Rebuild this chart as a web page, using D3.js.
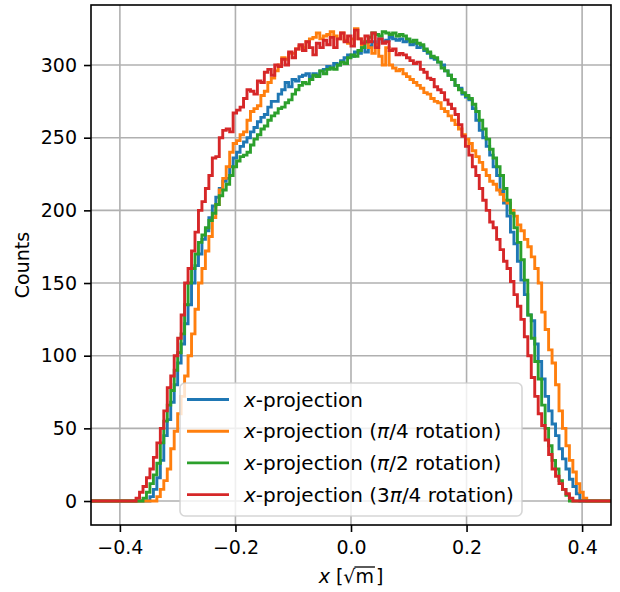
<!DOCTYPE html>
<html>
<head>
<meta charset="utf-8">
<script src="https://cdn.jsdelivr.net/npm/d3@7"></script>
<style>
  body { margin: 0; background: #fff; }
  svg { display: block; font-family: "DejaVu Sans", sans-serif; }
</style>
</head>
<body>
<div id="chart"></div>
<script>
// histogram bins: left edge of first listed bin and bin width
var binStart = -0.372;
var binWidth = 0.006;

var seriesNames = ["x-projection", "x-projection (\u03c0/4 rotation)", "x-projection (\u03c0/2 rotation)", "x-projection (3\u03c0/4 rotation)"];
var seriesColors = ["#1f77b4", "#ff7f0e", "#2ca02c", "#d62728"];

var countsX = [
	0, 0, 0, 0, 3, 8, 16, 28, 45, 56,
	68, 80, 95, 108, 122, 135, 150, 162, 170, 180,
	186, 195, 203, 209, 215, 220, 222, 230, 236, 240,
	244, 247, 250, 254, 257, 261, 264, 266, 271, 275,
	275, 280, 283, 288, 285, 290, 289, 292, 293, 294,
	292, 294, 293, 296, 297, 299, 298, 301, 300, 303,
	305, 307, 306, 309, 308, 312, 309, 313, 316, 314,
	318, 316, 317, 319, 318, 317, 318, 316, 317, 314,
	315, 312, 313, 310, 308, 305, 304, 302, 300, 296,
	293, 290, 286, 284, 280, 278, 276, 270, 262, 255,
	250, 244, 238, 230, 224, 213, 205, 196, 185, 177,
	165, 152, 142, 128, 124, 108, 96, 84, 72, 62,
	53, 45, 36, 29, 22, 15, 10, 5, 0, 0, 0
];

var countsRot45 = [
	0, 0, 0, 0, 0, 0, 3, 8, 14, 22,
	36, 48, 60, 72, 86, 100, 115, 132, 150, 160,
	172, 182, 195, 204, 214, 222, 230, 240, 246, 248,
	252, 254, 262, 268, 270, 272, 279, 282, 288, 291,
	296, 300, 305, 304, 308, 308, 311, 313, 312, 316,
	318, 319, 322, 318, 320, 321, 323, 320, 318, 322,
	317, 315, 318, 325, 318, 314, 316, 312, 308, 314,
	306, 300, 312, 300, 298, 296, 297, 294, 292, 290,
	288, 286, 284, 281, 280, 277, 275, 274, 270, 268,
	265, 262, 259, 256, 252, 249, 246, 241, 237, 233,
	228, 224, 220, 218, 214, 211, 207, 205, 200, 196,
	190, 186, 180, 175, 168, 160, 150, 130, 118, 104,
	95, 80, 62, 50, 38, 28, 20, 12, 6, 2, 0
];

var countsRot90 = [
	0, 0, 2, 6, 12, 18, 26, 40, 55, 66,
	76, 90, 102, 115, 135, 150, 160, 170, 178, 183,
	188, 193, 198, 204, 210, 214, 218, 224, 230, 234,
	237, 238, 240, 245, 249, 252, 256, 258, 262, 265,
	267, 270, 271, 274, 276, 280, 283, 286, 288, 287,
	290, 293, 292, 296, 294, 297, 298, 297, 300, 302,
	301, 305, 307, 306, 310, 312, 316, 319, 322, 321,
	320, 323, 322, 321, 322, 320, 321, 320, 318, 316,
	317, 315, 314, 311, 309, 306, 305, 302, 298, 296,
	293, 290, 286, 283, 281, 279, 277, 273, 268, 262,
	256, 249, 242, 236, 230, 224, 215, 207, 198, 188,
	178, 166, 152, 128, 112, 96, 84, 66, 50, 38,
	28, 22, 14, 8, 4, 0, 0, 0, 0, 0, 0
];

var countsRot135 = [
	2, 6, 10, 16, 22, 30, 40, 50, 62, 78,
	86, 100, 112, 128, 150, 160, 172, 185, 200, 206,
	215, 224, 236, 237, 250, 255, 256, 254, 267, 269,
	271, 277, 283, 282, 280, 289, 288, 295, 297, 293,
	300, 299, 304, 300, 309, 305, 311, 314, 310, 316,
	312, 307, 315, 312, 317, 314, 319, 312, 318, 322,
	316, 320, 313, 324, 318, 315, 320, 316, 322, 312,
	318, 315, 316, 310, 311, 307, 308, 307, 305, 303,
	301, 302, 297, 295, 291, 290, 285, 283, 281, 276,
	273, 270, 266, 259, 251, 244, 238, 230, 224, 215,
	207, 200, 192, 188, 180, 173, 165, 160, 151, 142,
	134, 125, 113, 100, 85, 72, 60, 52, 42, 32,
	22, 17, 12, 8, 5, 2, 0, 0, 0, 0, 0
];

var xTicks = [-0.4, -0.2, 0.0, 0.2, 0.4];
var yTicks = [0, 50, 100, 150, 200, 250, 300];

var allCounts = [countsX, countsRot45, countsRot90, countsRot135];

// set the dimensions and margins of the graph
var margin = {top: 5, right: 9, bottom: 67, left: 91};
var width = 620 - margin.left - margin.right;
var height = 592 - margin.top - margin.bottom;
var fontSize = 19;
var legendFontSize = 20;

var x = d3.scaleLinear().domain([-0.45, 0.45]).range([0, width]);
var y = d3.scaleLinear().domain([-16.5, 341.3]).range([height, 0]);

var svg = d3.select("#chart").append("svg")
	.attr("width", 620)
	.attr("height", 592)
	.append("g")
	.attr("transform", "translate(" + margin.left + "," + margin.top + ")");

svg.append("defs").append("clipPath")
	.attr("id", "plot-clip")
	.append("rect")
	.attr("width", width)
	.attr("height", height);

// grid
svg.append("g").selectAll("line.gx")
	.data(xTicks).enter().append("line")
	.attr("x1", function(d) { return x(d); })
	.attr("x2", function(d) { return x(d); })
	.attr("y1", 0).attr("y2", height)
	.attr("stroke", "#b0b0b0").attr("stroke-width", 1.6);

svg.append("g").selectAll("line.gy")
	.data(yTicks).enter().append("line")
	.attr("y1", function(d) { return y(d); })
	.attr("y2", function(d) { return y(d); })
	.attr("x1", 0).attr("x2", width)
	.attr("stroke", "#b0b0b0").attr("stroke-width", 1.6);

// step histograms
function stepPoints(vals) {
	var pts = [[-0.45, 0]];
	vals.forEach(function(v, i) { pts.push([binStart + i * binWidth, v]); });
	pts.push([binStart + vals.length * binWidth, 0]);
	pts.push([0.45, 0]);
	return pts;
}

var stepLine = d3.line()
	.x(function(d) { return x(d[0]); })
	.y(function(d) { return y(d[1]); })
	.curve(d3.curveStepAfter);

var lines = svg.append("g").attr("clip-path", "url(#plot-clip)");
allCounts.forEach(function(vals, i) {
	lines.append("path")
		.datum(stepPoints(vals))
		.attr("fill", "none")
		.attr("stroke", seriesColors[i])
		.attr("stroke-width", 2.9)
		.attr("stroke-linejoin", "miter")
		.attr("d", stepLine);
});

// axes
var xAxis = svg.append("g")
	.attr("transform", "translate(0," + height + ")")
	.call(d3.axisBottom(x).tickValues(xTicks).tickSize(7).tickPadding(9)
		.tickFormat(function(d) { return d3.format(".1f")(d).replace("-", "\u2212"); }));

var yAxis = svg.append("g")
	.call(d3.axisLeft(y).tickValues(yTicks).tickSize(7).tickPadding(7));

[xAxis, yAxis].forEach(function(a) {
	a.select(".domain").remove();
	a.selectAll(".tick line").attr("stroke", "#000").attr("stroke-width", 1.6);
	a.selectAll(".tick text")
		.attr("fill", "#000")
		.style("font-family", "DejaVu Sans")
		.style("font-size", fontSize + "px");
});

// frame
svg.append("rect")
	.attr("width", width).attr("height", height)
	.attr("fill", "none")
	.attr("stroke", "#000")
	.attr("stroke-width", 1.6);

// axis labels
svg.append("text")
	.attr("transform", "translate(" + (-margin.left + 29) + "," + (height / 2) + ") rotate(-90)")
	.attr("text-anchor", "middle")
	.style("font-size", fontSize + "px")
	.text("Counts");

var xlab = svg.append("g");
var parts = [
	{t: "x", italic: true},
	{t: "\u00a0[", italic: false},
	{t: "\u221a", italic: false},
	{t: "m", italic: false, bar: true},
	{t: "]", italic: false}
];
var cursor = 0;
var baseY = height + 58;
parts.forEach(function(p) {
	var el = xlab.append("text")
		.attr("x", cursor)
		.attr("y", baseY)
		.style("font-size", fontSize + "px")
		.style("font-style", p.italic ? "italic" : "normal")
		.text(p.t);
	var w = el.node().getComputedTextLength();
	if (p.bar) {
		xlab.append("line")
			.attr("x1", cursor - 1).attr("x2", cursor + w + 1)
			.attr("y1", baseY - 16).attr("y2", baseY - 16)
			.attr("stroke", "#000").attr("stroke-width", 1.3);
		w += 2;
	}
	cursor += w;
});
xlab.attr("transform", "translate(" + (x(0) - cursor / 2) + ",0)");

// legend
var legend = svg.append("g").attr("transform", "translate(" + (180 - margin.left) + "," + (383 - margin.top) + ")");
legend.append("rect")
	.attr("width", 342).attr("height", 133)
	.attr("rx", 5).attr("ry", 5)
	.attr("fill", "#fff").attr("fill-opacity", 0.8)
	.attr("stroke", "#cccccc").attr("stroke-opacity", 0.8)
	.attr("stroke-width", 1.6);

seriesNames.forEach(function(name, i) {
	var ry = 16.5 + i * 31.7;
	legend.append("line")
		.attr("x1", 7).attr("x2", 49)
		.attr("y1", ry).attr("y2", ry)
		.attr("stroke", seriesColors[i])
		.attr("stroke-width", 2.9);
	var t = legend.append("text")
		.attr("x", 64)
		.attr("y", ry + 7)
		.style("font-size", legendFontSize + "px");
	t.append("tspan").style("font-style", "italic").text("x");
	var rest = name.slice(1);
	var k = rest.indexOf("\u03c0");
	if (k < 0) {
		t.append("tspan").text(rest);
	} else {
		t.append("tspan").text(rest.slice(0, k));
		t.append("tspan").style("font-style", "italic").text("\u03c0");
		t.append("tspan").text(rest.slice(k + 1));
	}
});
</script>
</body>
</html>
